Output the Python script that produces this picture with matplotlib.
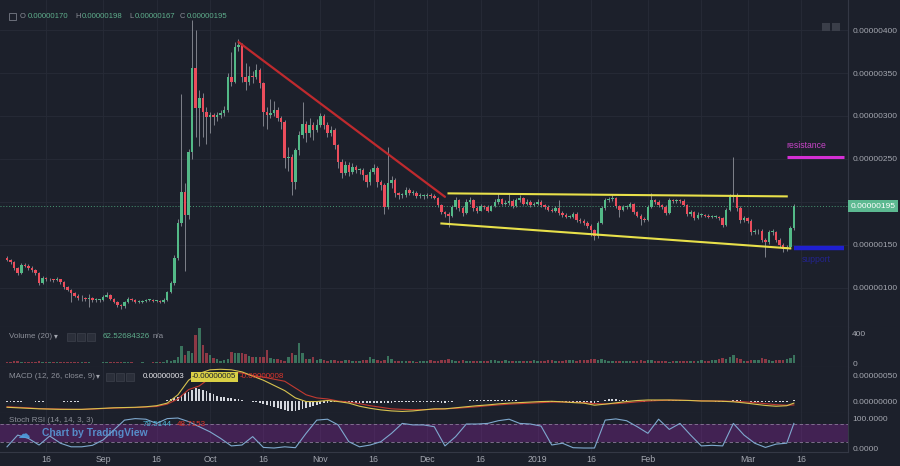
import matplotlib
matplotlib.use('Agg')
import matplotlib.pyplot as plt
import matplotlib.dates as mdates
import matplotlib.transforms as mtrans
from matplotlib.patches import Rectangle
import numpy as np
import pandas as pd

plt.rcParams['font.family'] = ['Liberation Sans', 'DejaVu Sans']

# ---------------- data (prices in satoshi = 1e-8) ----------------
dates = pd.date_range('2018-08-05', '2019-03-14', freq='D')

opens = [
    135, 133, 130, 123, 117, 127, 126, 123, 121, 117,
    106, 112, 110, 110, 109, 110, 107, 101, 98, 94,
    91, 88, 88, 87, 88, 86, 86, 86, 90, 92,
    87, 84, 80, 79, 84, 87, 86, 84, 84, 85,
    86, 86, 85, 85, 84, 86, 95, 106, 135, 176,
    212, 185, 258, 356, 309, 321, 305, 299, 301, 299,
    301, 303, 307, 345, 340, 380, 383, 345, 340, 346,
    345, 354, 338, 305, 301, 304, 307, 298, 293, 251,
    252, 223, 260, 278, 291, 280, 290, 284, 290, 300,
    290, 280, 284, 266, 247, 234, 243, 235, 241, 237,
    237, 231, 223, 235, 240, 223, 220, 194, 222, 226,
    210, 208, 208, 214, 211, 211, 207, 207, 207, 208,
    207, 205, 196, 188, 186, 184, 194, 202, 193, 187,
    200, 202, 193, 190, 195, 194, 190, 195, 200, 203,
    198, 199, 201, 195, 202, 205, 198, 200, 196, 198,
    200, 196, 194, 191, 190, 193, 187, 185, 183, 183,
    186, 179, 178, 176, 172, 167, 160, 176, 193, 202,
    203, 205, 195, 191, 194, 194, 198, 188, 184, 180,
    179, 194, 202, 200, 196, 194, 187, 202, 201, 202,
    201, 197, 186, 188, 181, 185, 185, 184, 183, 183,
    183, 181, 173, 191, 206, 207, 193, 179, 181, 178,
    165, 166, 166, 156, 153, 165, 165, 156, 150, 145,
    148, 170]

highs = [
    137, 134, 131, 124, 129, 129, 128, 125, 122, 118,
    114, 113, 112, 111, 113, 111, 108, 102, 99, 95,
    93, 92, 90, 93, 89, 88, 87, 92, 95, 93,
    88, 85, 81, 85, 89, 88, 87, 86, 86, 87,
    87, 87, 86, 86, 88, 97, 108, 138, 180, 326,
    222, 262, 412, 400, 330, 327, 310, 305, 304, 305,
    307, 312, 350, 374, 386, 389, 385, 362, 358, 352,
    360, 356, 340, 310, 320, 318, 310, 300, 295, 264,
    256, 263, 282, 316, 294, 298, 293, 296, 304, 302,
    293, 288, 286, 268, 250, 248, 246, 245, 243, 240,
    239, 233, 238, 244, 242, 226, 222, 264, 230, 228,
    212, 211, 217, 216, 214, 213, 210, 209, 210, 210,
    209, 206, 198, 190, 188, 196, 206, 204, 195, 203,
    206, 204, 195, 198, 197, 196, 197, 203, 210, 205,
    202, 210, 203, 205, 208, 206, 203, 202, 200, 203,
    202, 198, 196, 193, 195, 202, 189, 187, 185, 188,
    188, 181, 180, 178, 174, 169, 178, 195, 205, 206,
    208, 206, 197, 196, 196, 200, 199, 190, 186, 182,
    196, 210, 204, 202, 198, 196, 205, 204, 204, 204,
    203, 198, 191, 190, 188, 187, 186, 186, 185, 185,
    184, 182, 193, 209, 252, 210, 195, 184, 183, 180,
    168, 168, 168, 158, 167, 168, 166, 158, 152, 150,
    172, 198]

lows = [
    131, 128, 121, 115, 116, 124, 121, 119, 115, 104,
    105, 108, 108, 107, 108, 105, 99, 96, 84, 89,
    86, 85, 85, 78, 84, 84, 84, 85, 89, 86,
    82, 78, 76, 77, 83, 85, 83, 83, 83, 84,
    85, 84, 84, 83, 83, 85, 94, 104, 133, 172,
    120, 180, 250, 275, 265, 275, 268, 280, 290, 294,
    298, 300, 305, 335, 338, 376, 340, 330, 336, 338,
    343, 333, 288, 285, 298, 300, 294, 285, 240, 236,
    208, 215, 255, 274, 270, 276, 272, 281, 287, 285,
    276, 277, 262, 240, 228, 231, 230, 232, 234, 232,
    226, 218, 220, 232, 218, 214, 186, 192, 216, 206,
    204, 205, 206, 208, 208, 205, 205, 204, 205, 205,
    203, 194, 186, 182, 171, 182, 192, 190, 184, 186,
    198, 190, 187, 189, 192, 188, 189, 194, 198, 196,
    196, 197, 193, 194, 200, 196, 197, 194, 195, 197,
    194, 192, 189, 188, 188, 185, 183, 181, 181, 181,
    177, 176, 173, 170, 160, 156, 158, 174, 191, 200,
    201, 193, 182, 189, 192, 193, 186, 182, 173, 177,
    178, 193, 198, 194, 192, 185, 186, 199, 199, 199,
    195, 184, 184, 179, 180, 183, 182, 181, 181, 181,
    179, 171, 172, 190, 200, 190, 176, 177, 175, 162,
    163, 163, 153, 136, 151, 162, 153, 148, 142, 143,
    146, 167]

closes = [
    133, 130, 123, 117, 127, 126, 123, 121, 117, 106,
    112, 110, 110, 109, 110, 107, 101, 98, 94, 91,
    88, 88, 87, 88, 86, 86, 86, 90, 92, 87,
    84, 80, 79, 84, 87, 86, 84, 84, 85, 86,
    86, 85, 85, 84, 86, 95, 106, 135, 176, 212,
    185, 258, 356, 309, 321, 305, 299, 301, 299, 301,
    303, 307, 345, 340, 380, 383, 345, 340, 346, 345,
    354, 338, 305, 301, 304, 307, 298, 293, 251, 252,
    223, 260, 278, 291, 280, 290, 284, 290, 300, 290,
    280, 284, 266, 247, 234, 243, 235, 241, 237, 237,
    231, 223, 235, 240, 223, 220, 194, 222, 226, 210,
    208, 208, 214, 211, 211, 207, 207, 207, 208, 207,
    205, 196, 188, 186, 184, 194, 202, 193, 187, 200,
    202, 193, 190, 195, 194, 190, 195, 200, 203, 198,
    199, 201, 195, 202, 205, 198, 200, 196, 198, 200,
    196, 194, 191, 190, 193, 187, 185, 183, 183, 186,
    179, 178, 176, 172, 167, 160, 176, 193, 202, 203,
    205, 195, 191, 194, 194, 198, 188, 184, 180, 179,
    194, 202, 200, 196, 194, 187, 202, 201, 202, 201,
    197, 186, 188, 181, 185, 185, 184, 183, 183, 183,
    181, 173, 191, 206, 207, 193, 179, 181, 178, 165,
    166, 166, 156, 153, 165, 165, 156, 150, 145, 148,
    170, 195]

volumes = [
    18, 20, 22, 25, 15, 14, 16, 12, 20, 25, 14, 10, 10, 9, 10, 12, 15, 14, 12, 10,
    9, 8, 7, 9, 6, 6, 6, 8, 10, 9, 10, 12, 12, 10, 8, 7, 6, 6, 7, 6, 6, 7, 8, 7, 15,
    35, 31, 40, 84, 227, 107, 164, 129, 373, 462, 240, 129, 107, 62, 49, 31, 40, 49, 151, 129,
    129, 138, 120, 90, 76, 76, 84, 76, 173, 62, 49, 49, 45, 31, 84, 129, 107, 262, 129, 49,
    60, 76, 40, 49, 40, 31, 35, 40,
    31, 27, 40, 35, 31, 27, 31, 35, 40, 84, 49, 35, 31, 40, 93, 49, 31, 27, 22, 27,
    31, 27, 18, 22, 27, 31, 35, 27, 31, 40, 45, 49,
    40, 31, 27, 35, 31, 27, 22, 27, 31, 27, 31, 35, 40, 31, 27, 35, 31, 27, 31, 27,
    22, 27, 31, 35, 31, 27, 31, 40, 35, 31, 27, 31, 35, 40, 35, 31, 35, 40, 45, 49,
    53, 45, 49, 40, 31, 27, 31, 27, 22, 27, 31, 27, 31, 35, 31, 40, 35, 27, 22, 27,
    22, 18, 22, 27, 31, 27, 31, 22, 27, 31, 35, 27, 31, 40, 45, 49, 62, 53, 84, 107,
    62, 49, 31, 27, 35, 40, 45, 62, 53, 35, 31, 40, 45, 40, 49, 62, 107]

macd_hist = [
    -1, -1, -1.5, -2, -1, -0.5, -0.5, -0.5, -1, -1.5, -1, -0.5, -0.5, 0, 0, -0.5, -1, -1, -1.5, -1,
    -1, -0.5, -0.5, 0, 0, 0, 0, 0.5, 0.5, 0, 0, -0.5, -0.5, 0, 0.5, 0.5, 0.5, 0.5, 0.5, 0.5,
    0.5, 0.5, 0.5, 0.5, 1,
    2, 3, 5, 8, 12, 15, 18, 22, 25, 24, 22, 19, 16, 13, 10, 8, 7, 6, 5, 4, 3, 2, 1, 0.5,
    -1, -2, -4, -6, -8, -10, -12, -14, -16, -18, -19, -20, -19, -17, -15, -13, -11, -9, -7, -5,
    -4, -3, -2, -2, -1,
    -1, -1.5, -2, -2.5, -3, -3.5, -4, -4, -4, -4, -3.5, -3.5, -3.5, -3, -3, -2.5, -2.5, -2, -2, -1.5,
    -1.5, -1, -1, -1, -1, -1.5, -2,
    -2.5, -3, -3, -2.5, -1.5, -0.5, 0, 0.5, 1, 1.5, 1.5, 1.5, 1.5, 1.5, 1.5, 1.5, 1.5, 1.5, 1.5, 1.5,
    1.5, 1.5, 1.5, 1, 1, 1, 1, 0.5, 0, -0.5,
    -1, -1.5, -2, -2, -2.5, -2.5, -2.5, -2.5, -2.5, -2.5, -2.5, -2.5, -2.5, -3, -3.5, -2, 0, 2, 3, 3,
    3, 2.5, 2, 1.5, 1, 0.5, 0, -0.5, -1, 0.5,
    1.5, 2, 2, 1.5, 1, 1.5, 1.5, 1.5, 1.5, 1, 1, 0.5, 0, -0.5, -0.5, -0.5, -0.5, -0.5, -1, -1,
    -1.5, -0.5, 1, 2, 2, 1.5, 0.5, -0.5, -1, -1.5, -2, -2, -2, -2.5, -2, -2, -2, -2, -1.5, 0,
    1.5]

ind_dates = list(pd.date_range('2018-08-05', periods=74, freq='3D')) + [pd.Timestamp('2019-03-14')]

macd_line = [
    -12, -13, -14, -15, -15.5, -16, -16, -16, -15, -14, -13, -12.5, -12, -11, -9, -4, 12, 40, 53, 60,
    61, 60, 56, 48, 40, 30, 20, 6, -1, -1, 1, -1, -4, -10, -14, -17, -19, -20, -19, -17,
    -15, -15, -13, -11, -9, -7.5, -5.5, -4, -3, -2, -1, -0.5, -1.5, -3, -4, -8, -6, -3.5, -1, 1,
    2, 2, 2, 1.5, 1, 0, 0, -0.5, -1.5, -3.5, -6, -8.5, -10, -9, -4]

signal_line = [
    -11, -12, -13, -14.5, -15, -15.5, -16, -16, -15.5, -14.5, -13.5, -13, -12.5, -11.5, -10.5, -6, 4, 22, 29, 44,
    53, 55, 54, 49, 46, 42, 38, 25, 12, 6, 4, 0, -2, -5, -9, -12, -15, -16, -16.5, -16.5,
    -16, -15, -14, -12.5, -11, -9, -7.5, -6, -5, -4, -3, -2, -2, -2.5, -3, -5, -5.5, -5, -3.5, -1.5,
    0, 1, 1.5, 1.5, 1, 0.5, 0, 0, -0.5, -1.5, -3, -5, -7, -8, -7.5]

stoch_k = [
    4, 43, 32, 10, 40, 16, 4, 4, 9, 27, 60, 93, 98, 96, 82, 98, 100, 88, 71, 54,
    32, 7, 10, 38, 2, 0, 4, 1, 49, 93, 96, 77, 21, 4, 10, 21, 49, 82, 77, 77,
    71, 7, 38, 80, 80, 82, 91, 96, 82, 80, 73, 10, 16, 1, 0, 0, 93, 97, 91, 71,
    49, 96, 62, 82, 43, 7, 9, 7, 82, 43, 16, 2, 13, 16, 82]

tick_dates = ['2018-08-16', '2018-09-01', '2018-09-16', '2018-10-01', '2018-10-16', '2018-11-01',
              '2018-11-16', '2018-12-01', '2018-12-16', '2019-01-01', '2019-01-16', '2019-02-01',
              '2019-02-16', '2019-03-01', '2019-03-16']
tick_labels = ['16', 'Sep', '16', 'Oct', '16', 'Nov', '16', 'Dec', '16', '2019', '16', 'Feb',
               '', 'Mar', '16']
price_ticks = [100, 150, 200, 250, 300, 350, 400]

last_price = 195
resistance_level = 252
support_level = 146
red_trend = (['2018-10-09', '2018-12-06'], [386, 206])
upper_channel = (['2018-12-07', '2019-03-12'], [210, 206.5])
lower_channel = (['2018-12-05', '2019-03-13'], [175, 146])
level_span = ['2019-03-12', '2019-03-28']
support_span = ['2019-03-14', '2019-03-28']

# ---------------- style ----------------
BG = '#1c202b'
GRID = '#272b37'
SEP = '#343845'
TXT = '#a4a7b0'
UP = '#53b987'
DN = '#eb4d5c'
WICK = '#8e9199'

W, H = 900, 466
fig = plt.figure(figsize=(9, 4.66), dpi=100, facecolor=BG)


def pane(top, bottom):
    a = fig.add_axes([0, 1 - bottom / H, 848 / W, (bottom - top) / H])
    a.set_facecolor(BG)
    for s in ['top', 'left']:
        a.spines[s].set_visible(False)
    a.spines['right'].set_color(SEP)
    a.spines['bottom'].set_color(SEP)
    a.spines['right'].set_linewidth(0.8)
    a.spines['bottom'].set_linewidth(0.8)
    a.yaxis.tick_right()
    a.tick_params(axis='y', length=0, pad=3, labelsize=6.0, labelcolor=TXT)
    a.tick_params(axis='x', length=0, labelbottom=False)
    a.set_xticks(mdates.date2num(pd.to_datetime(tick_dates)))
    a.grid(True, color=GRID, lw=0.6)
    a.set_axisbelow(True)
    return a


ax = pane(0, 327)
axv = pane(327, 367)
axm = pane(367, 413)
axs = pane(413, 452)

x = mdates.date2num(dates)
o = np.array(opens, float)
h = np.array(highs, float)
l = np.array(lows, float)
c = np.array(closes, float)
up = c >= o
cols = np.where(up, UP, DN)

x0 = x[0] - 1.97
x1 = x[0] + 236.2
for a in (ax, axv, axm, axs):
    a.set_xlim(x0, x1)

# ---- main price pane ----
ax.vlines(x, l, h, colors=WICK, lw=0.6, zorder=2)
ax.bar(x, np.maximum(np.abs(c - o), 0.8), bottom=np.minimum(o, c), width=0.7,
       color=cols, linewidth=0, zorder=3)
ax.set_ylim(54.6, 434.9)
ax.set_yticks(price_ticks)
# the 200 label sits under the last-price box, so it is left blank
ax.set_yticklabels(['' if v == 200 else f'{v * 1e-8:.8f}' for v in price_ticks])

ax.axhline(last_price, color=UP, lw=0.7, ls=(0, (1, 2)), alpha=0.8, zorder=2)

rx = mdates.date2num(pd.to_datetime(red_trend[0]))
ax.plot(rx, red_trend[1], color='#bf2a2e', lw=1.6, zorder=4, solid_capstyle='round')
ux = mdates.date2num(pd.to_datetime(upper_channel[0]))
ax.plot(ux, upper_channel[1], color='#e8e04a', lw=1.5, zorder=4)
lx = mdates.date2num(pd.to_datetime(lower_channel[0]))
ax.plot(lx, lower_channel[1], color='#e8e04a', lw=1.5, zorder=4)

rsx = mdates.date2num(pd.to_datetime(level_span))
ax.plot(rsx, [resistance_level] * 2, color='#d42fd4', lw=2.2, zorder=4, solid_capstyle='butt')
ax.text(rsx[0], resistance_level + 14, 'resistance', color='#c845c8', fontsize=6.2,
        va='center', ha='left', zorder=5)
ssx = mdates.date2num(pd.to_datetime(support_span))
ax.plot(ssx, [support_level] * 2, color='#1f1fd0', lw=3.2, zorder=4, solid_capstyle='butt')
ax.text(ssx[0] + 2.3, support_level - 13, 'support', color='#23238f', fontsize=6.2,
        va='center', ha='left', zorder=5)

trans = mtrans.blended_transform_factory(ax.transAxes, ax.transData)
ax.text(1.0035, last_price, f'{last_price * 1e-8:.8f}', transform=trans, color='white',
        fontsize=6.0, va='center', ha='left', zorder=10, clip_on=False,
        bbox=dict(boxstyle='square,pad=0.3', fc='#5cb991', ec='none'))

# ---- volume pane ----
axv.bar(x, volumes, width=0.7, color=cols, alpha=0.55, linewidth=0, zorder=3)
axv.set_ylim(-53, 480)
axv.set_yticks([0, 400])
axv.set_yticklabels(['0', '400'])
axv.grid(False, axis='y')

# ---- MACD pane ----
axm.bar(x, macd_hist, width=0.5, color='#d4d7de', linewidth=0, zorder=3)
ix = mdates.date2num(pd.to_datetime(ind_dates))
axm.plot(ix, signal_line, color='#c23a31', lw=0.8, zorder=4)
axm.plot(ix, macd_line, color='#d8c350', lw=0.8, zorder=5)
axm.set_ylim(-23, 65.4)
axm.set_yticks([0, 50])
axm.set_yticklabels(['0.00000000', '0.00000050'])
axm.grid(False, axis='y')

# ---- Stoch RSI pane ----
axs.axhspan(20, 80, color='#9c27b0', alpha=0.3, lw=0, zorder=1)
axs.axhline(80, color='#8a7a99', lw=0.6, ls=(0, (4, 3)), zorder=2)
axs.axhline(20, color='#8a7a99', lw=0.6, ls=(0, (4, 3)), zorder=2)
axs.plot(ix, stoch_k, color='#7fa9cf', lw=0.8, zorder=4)
axs.set_ylim(-13.3, 116.7)
axs.set_yticks([0, 100])
axs.set_yticklabels(['0.0000', '100.0000'])
axs.grid(False, axis='y')
axs.tick_params(axis='x', labelbottom=True, labelsize=6.3, labelcolor=TXT, pad=2)
axs.set_xticklabels(tick_labels)


# ---------------- header / legends ----------------
def ftext(px, py, s, **kw):
    kw.setdefault('fontsize', 5.8)
    kw.setdefault('va', 'center')
    kw.setdefault('ha', 'left')
    fig.text(px / W, 1 - py / H, s, **kw)


def frect(px, py, w, hh, **kw):
    fig.add_artist(Rectangle((px / W, 1 - (py + hh) / H), w / W, hh / H,
                             transform=fig.transFigure, **kw))


frect(9, 13, 7, 7, fc='none', ec='#6b6f7a', lw=0.7)
for lbl, lx_, val, vx in [('O', 20, '0.00000170', 28), ('H', 75, '0.00000198', 82),
                          ('L', 129, '0.00000167', 134.5), ('C', 179.5, '0.00000195', 186.5)]:
    ftext(lx_, 17, lbl, color='#8d909a', fontsize=5.4)
    ftext(vx, 17, val, color='#5fae8c', fontsize=5.6)

frect(822, 23, 8, 8, fc='#3a3e49', ec='none')
frect(832, 23, 8, 8, fc='#3a3e49', ec='none')

# volume legend
ftext(9, 337, 'Volume (20)', color='#8d909a')
ftext(54, 337, '▾', color='#a4a7b0', fontsize=5.5)
for bx in (67, 77, 87):
    frect(bx, 333, 8, 8, fc='#2b2f3a', ec='#3d414c', lw=0.5)
ftext(103, 337, '62.52684326', color='#5fae8c')
ftext(153, 337, 'n/a', color='#8d909a')

# MACD legend
ftext(9, 377, 'MACD (12, 26, close, 9)', color='#8d909a')
ftext(96, 377, '▾', color='#a4a7b0', fontsize=5.5)
for bx in (106, 116, 126):
    frect(bx, 373, 8, 8, fc='#2b2f3a', ec='#3d414c', lw=0.5)
ftext(143, 377, '0.00000003', color='#e8e8ec')
ftext(192, 377, '-0.00000005', color='#1c202b',
      bbox=dict(boxstyle='square,pad=0.15', fc='#d9cf45', ec='none'))
ftext(240, 377, '-0.00000008', color='#e0352b')

# Stoch RSI legend + watermark
ftext(9, 421, 'Stoch RSI (14, 14, 3, 3)', color='#8d909a')
ftext(143, 424, '79.5144', color='#4fb8dc')
ftext(177, 424, '48.7153', color='#e0352b')
ftext(17, 434, '☁', color='#4f9fe0', fontsize=9, family='DejaVu Sans', alpha=0.9)
ftext(42, 433, 'Chart by TradingView', color='#5a9fde', fontsize=7.4, fontweight='bold', alpha=0.85)

fig.savefig('out.png', dpi=100, facecolor=BG)
